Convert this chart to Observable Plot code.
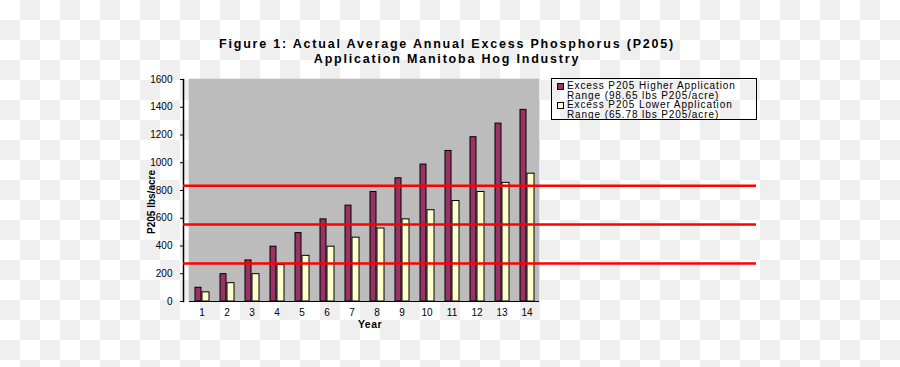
<!DOCTYPE html>
<html><head><meta charset="utf-8">
<script src="https://cdn.jsdelivr.net/npm/d3@7"></script>
<script src="https://cdn.jsdelivr.net/npm/@observablehq/plot@0.6"></script>
<style>
body{margin:0;width:900px;height:367px;overflow:hidden;background-color:#fff;background-image:conic-gradient(#efefef 0 25%,#fff 0 50%,#efefef 0 75%,#fff 0);background-size:40px 40px;font-family:"Liberation Sans",Arial,sans-serif;color:#000;}
#wrap{position:relative;width:900px;height:367px;}
#chart{position:absolute;left:0;top:0;}
#chart svg{background:transparent;}
.title{position:absolute;left:0;width:894px;top:37px;text-align:center;font-weight:bold;font-size:12.5px;line-height:15px;letter-spacing:1.8px;}
.legend{position:absolute;left:551px;top:78px;width:206px;height:42px;border:1px solid #000;font-size:10px;line-height:9.5px;letter-spacing:0.9px;box-sizing:border-box;padding:2px 0 0 4px;}
.legend .item{position:relative;padding-left:11px;}
.legend .sw{position:absolute;left:1px;top:2px;width:5px;height:5px;border:1px solid #000;}
.ylab{position:absolute;left:151px;top:202px;transform:translate(-50%,-50%) rotate(-90deg);font-weight:bold;font-size:10px;white-space:nowrap;}
.xlab{position:absolute;left:370px;top:324px;transform:translate(-50%,-50%);font-weight:bold;font-size:10.5px;letter-spacing:0.5px;}
</style></head>
<body>
<div id="wrap">
  <div id="chart"></div>
  <div class="title">Figure 1: Actual Average Annual Excess Phosphorus (P205)<br>Application Manitoba Hog Industry</div>
  <div class="ylab">P205 lbs/acre</div>
  <div class="xlab">Year</div>
  <div class="legend" id="legend"></div>
</div>
<script>
const years = ["1","2","3","4","5","6","7","8","9","10","11","12","13","14"];
const higher = [99,197,296,395,493,592,691,789,888,987,1085,1184,1282,1381];
const lower = [66,132,197,263,329,395,460,526,592,658,724,789,855,921];
const redLines = [835,555,273];
const yTicks = [0,200,400,600,800,1000,1200,1400,1600];
const seriesNames = ["Excess P205 Higher Application Range (98.65 lbs P205/acre)","Excess P205 Lower Application Range (65.78 lbs P205/acre)"];
const seriesColors = ["#993366","#ffffcc"];

const hiData = years.map((y,i)=>({year:y, value:higher[i]}));
const loData = years.map((y,i)=>({year:y, value:lower[i]}));

const chart = Plot.plot({
  width: 900, height: 367,
  marginLeft: 183, marginRight: 144, marginTop: 79, marginBottom: 66,
  style: {fontFamily: '"Liberation Sans", Arial, sans-serif', fontSize: "10px", color: "#000", background: "transparent"},
  x: {type: "band", domain: years, range: [183, 545], padding: 0, axis: null},
  y: {domain: [0, 1600], axis: null},
  marks: [
    Plot.barY(years, {x: d=>d, y1: 0, y2: 1600, fill: "#bcbcbc", stroke: "#bcbcbc", strokeWidth: 0.6}),
    Plot.barY(hiData, {x: "year", y: "value", fill: seriesColors[0], stroke: "#000", strokeWidth: 1, insetLeft: 6, insetRight: 13}),
    Plot.barY(loData, {x: "year", y: "value", fill: seriesColors[1], stroke: "#000", strokeWidth: 1, insetLeft: 13, insetRight: 5}),
    Plot.tickY(years, {x: d=>d, y: 0, stroke: "#000", strokeWidth: 1}),
    Plot.frame({anchor: "left", stroke: "#000", strokeWidth: 1.5}),
    Plot.ruleY(redLines, {stroke: "#ff0000", strokeWidth: 2.5}),
    Plot.axisY(yTicks, {tickSize: 3, tickPadding: 8, fontSize: 10, label: null, letterSpacing: 1, tickFormat: d3.format("d")}),
    Plot.axisX({tickSize: 0, tickPadding: 7, fontSize: 10, label: null, letterSpacing: 1})
  ]
});
document.getElementById("chart").appendChild(chart);

const lg = document.getElementById("legend");
seriesNames.forEach((n,i)=>{
  const d = document.createElement("div");
  d.className = "item";
  d.innerHTML = `<span class="sw" style="background:${seriesColors[i]}"></span>${n.replace(" Range", "<br>Range")}`;
  lg.appendChild(d);
});
</script>
</body></html>
